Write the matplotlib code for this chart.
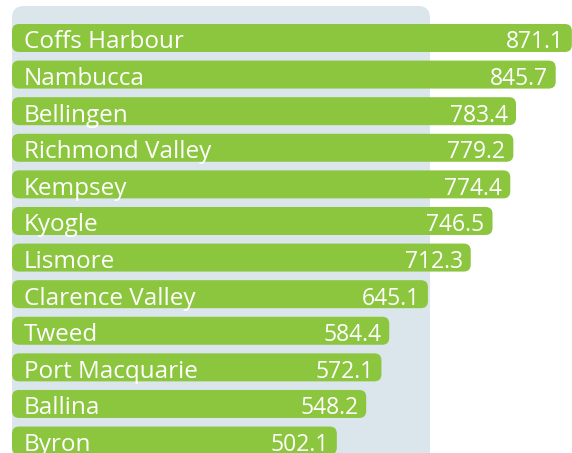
import matplotlib.pyplot as plt
from matplotlib.patches import FancyBboxPatch

# LGA values
councils = ["Coffs Harbour", "Nambucca", "Bellingen", "Richmond Valley", "Kempsey",
            "Kyogle", "Lismore", "Clarence Valley", "Tweed", "Port Macquarie",
            "Ballina", "Byron"]
values = [871.1, 845.7, 783.4, 779.2, 774.4, 746.5, 712.3, 645.1, 584.4, 572.1, 548.2, 502.1]

green = "#8cc63f"
panel = "#dbe6ec"

W, H = 572, 453
fig = plt.figure(figsize=(W / 100, H / 100), dpi=100)
ax = fig.add_axes([0, 0, 1, 1])
ax.set_xlim(-26.7, 871.3)
ax.set_ylim(11.34, -1.038)
ax.axis("off")

# data units per pixel, used to keep corners round
ux = (871.3 + 26.7) / W
uy = (11.34 + 1.038) / H
aspect = uy / ux

# light panel behind the bars
ax.add_patch(FancyBboxPatch((-26.7 + 12 * ux, -1.038 + 6 * uy),
                            418 * ux, 500 * uy,
                            boxstyle=f"round,pad=0,rounding_size={12 * ux}",
                            mutation_aspect=aspect, fc=panel, ec="none", zorder=0))

bar_h = 28 * uy
for i, (name, v) in enumerate(zip(councils, values)):
    x0 = -5 * ux
    ax.add_patch(FancyBboxPatch((x0, i - bar_h / 2), v - x0, bar_h,
                                boxstyle=f"round,pad=0,rounding_size={7 * ux}",
                                mutation_aspect=aspect, fc=green, ec="none", zorder=2))
    ax.text(x0 + 12 * ux, i + 10.5 * uy, name, color="white", fontsize=17.5,
            family="Open Sans", va="baseline", ha="left", zorder=3)
    ax.text(v - 8 * ux, i + 10.5 * uy, f"{v:.1f}", color="white", fontsize=16.5,
            family="Open Sans", va="baseline", ha="right", zorder=3)

plt.savefig("out.png", dpi=100)
